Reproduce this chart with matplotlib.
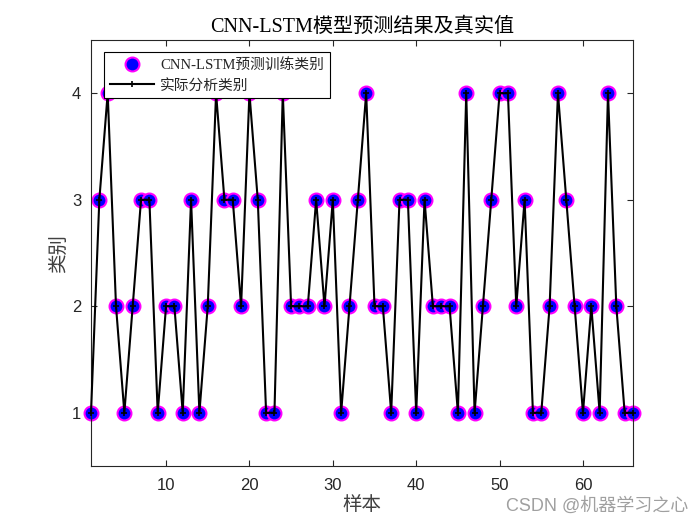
import matplotlib
matplotlib.use("Agg")
import matplotlib.pyplot as plt
import numpy as np

samples = list(range(1, 67))
predicted = [1, 3, 4, 2, 1, 2, 3, 3, 1, 2, 2, 1, 3, 1, 2, 4, 3, 3, 2, 4,
             3, 1, 1, 4, 2, 2, 2, 3, 2, 3, 1, 2, 3, 4, 2, 2, 1, 3, 3, 1,
             3, 2, 2, 2, 1, 4, 1, 2, 3, 4, 4, 2, 3, 1, 1, 2, 4, 3, 2, 1,
             2, 1, 4, 2, 1, 1]
actual = list(predicted)
xticks = [10, 20, 30, 40, 50, 60]
yticks = [1, 2, 3, 4]

serif = ['Liberation Serif', 'Noto Sans CJK SC']
sans = ['Liberation Sans', 'Noto Sans CJK SC']

fig = plt.figure(figsize=(7, 5.25), dpi=100)
ax = fig.add_axes([91/700, 1 - 466/525, (633-91)/700, (466-40)/525])

ax.plot(samples, predicted, 'o', markersize=10, markerfacecolor='blue',
        markeredgecolor='magenta', markeredgewidth=1.5, linestyle='none',
        label='CNN-LSTM预测训练类别', clip_on=False, zorder=2)
ax.plot(samples, actual, '-+', color='black', linewidth=1.5, markersize=5,
        markeredgewidth=1.2, label='实际分析类别', clip_on=False, zorder=3)

ax.set_xlim(1, 66)
ax.set_ylim(0.5, 4.5)
ax.set_xticks(xticks)
ax.set_yticks(yticks)
ax.tick_params(direction='in', top=True, right=True, length=4, width=0.8,
               labelsize=12, colors='#262626')
ax.tick_params(axis='x', pad=9)
ax.tick_params(axis='y', pad=7)
for lab in ax.get_xticklabels() + ax.get_yticklabels():
    lab.set_fontfamily(sans)
for s in ax.spines.values():
    s.set_linewidth(0.8)
    s.set_color('#262626')

ax.set_title('CNN-LSTM模型预测结果及真实值', fontsize=14.5, family=serif, pad=6)
ax.set_xlabel('样本', fontsize=14, family=sans, labelpad=2, color='#404040')
ax.set_ylabel('类别', fontsize=14, family=sans, labelpad=3, color='#404040')

leg = ax.legend(loc='upper left', bbox_to_anchor=(0.024, 0.972), prop={'family': serif, 'size': 10.6},
                fancybox=False, edgecolor='black', framealpha=1, borderpad=0.4,
                handlelength=3, labelspacing=0.45, handletextpad=0.4, borderaxespad=0)
leg.get_frame().set_linewidth(0.8)
for t in leg.get_texts():
    t.set_color('#262626')

fig.text(0.983, 0.019, 'CSDN @机器学习之心', ha='right', va='bottom', fontsize=13,
         color='#a0a0a0', family=sans)

fig.savefig('out.png', dpi=100)
